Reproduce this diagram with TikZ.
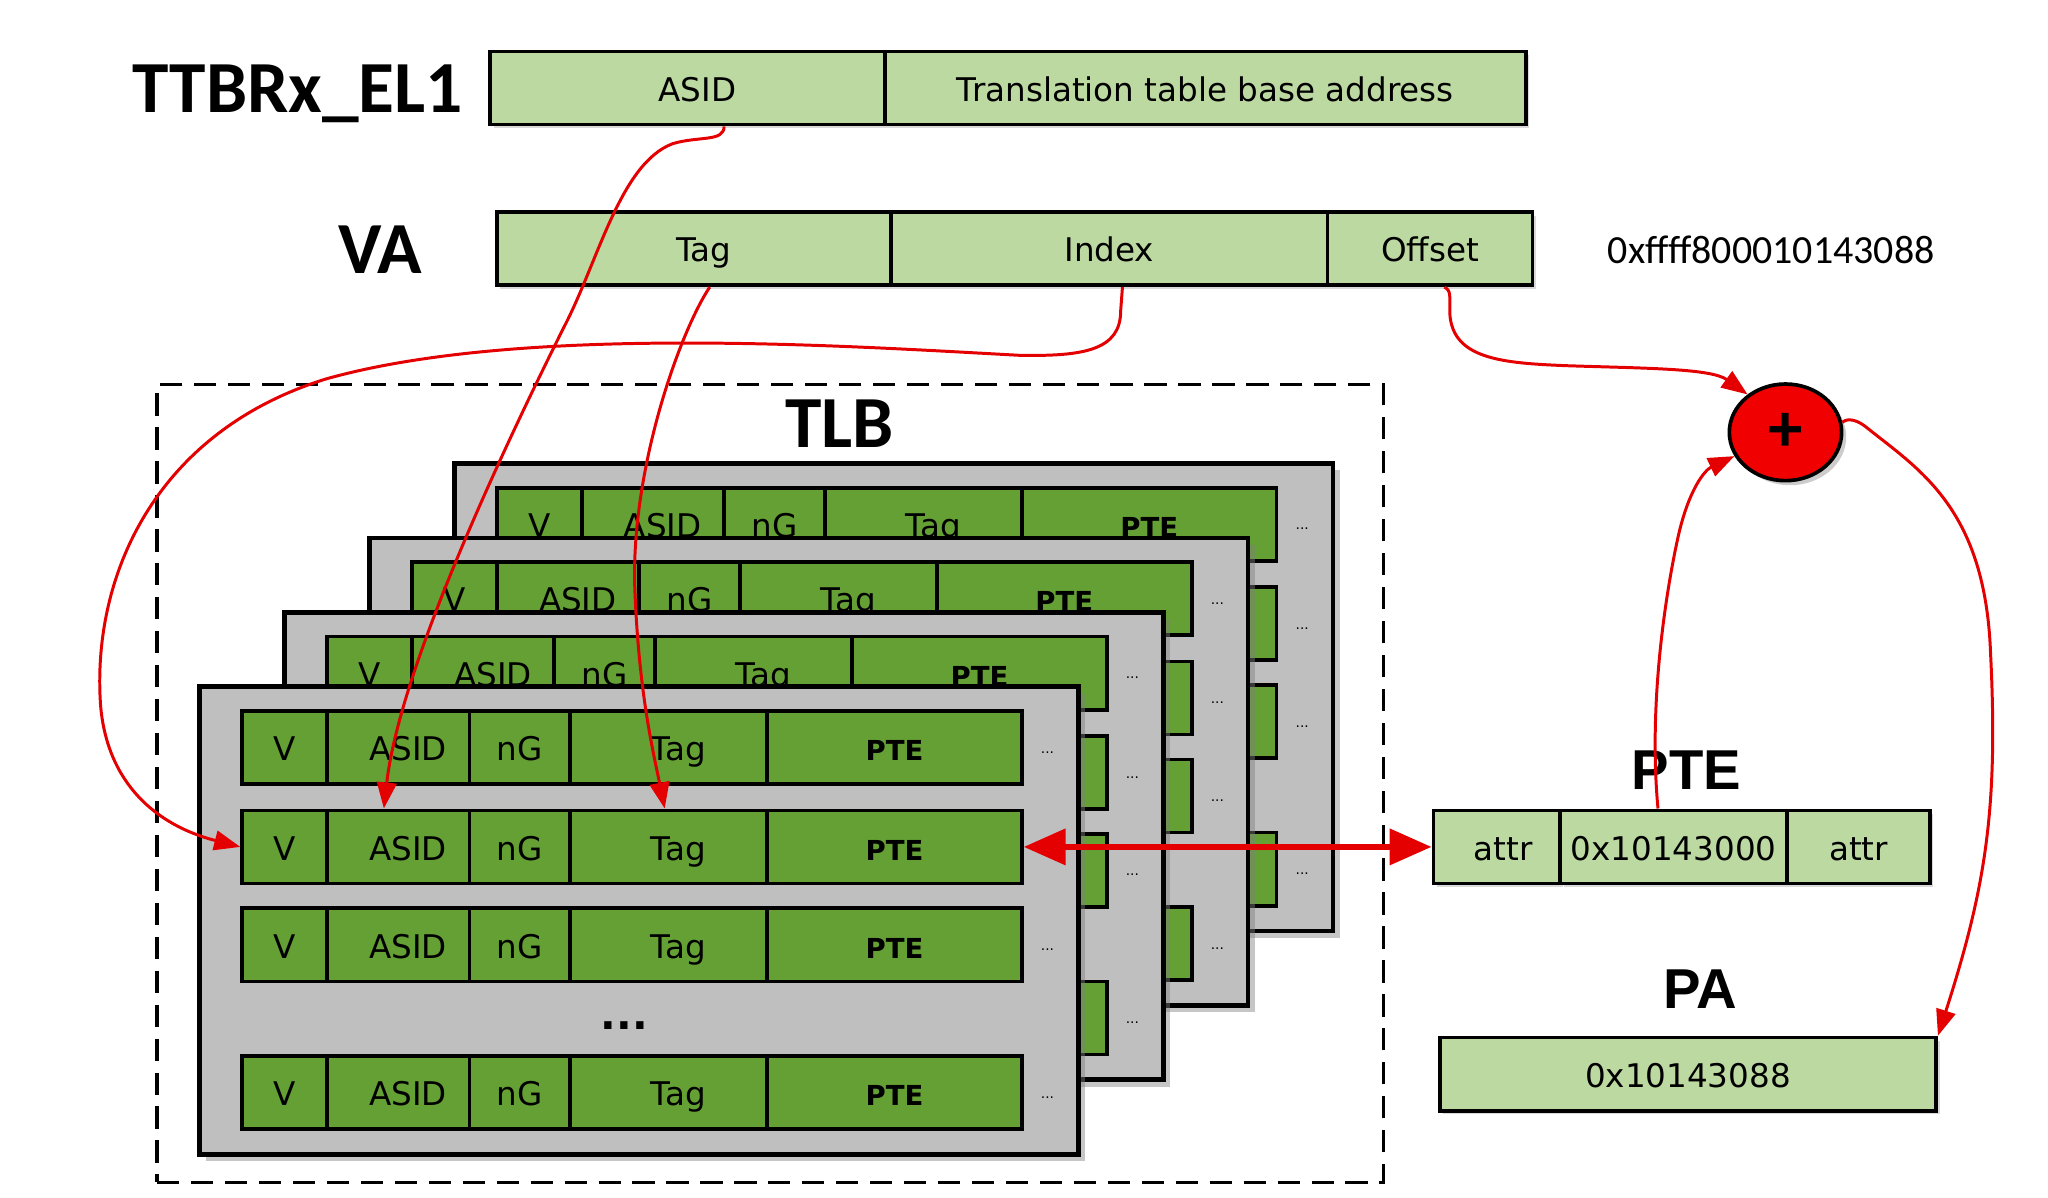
\documentclass[tikz,border=0pt]{standalone}
\usepackage{fontspec}
\setmainfont{DejaVu Sans}
\newfontfamily\calibrifont{Carlito}
\newfontfamily\arialfont{Liberation Sans}
\usetikzlibrary{shapes.geometric,shadows,arrows.meta,calc}

\definecolor{lightgreen}{RGB}{189,217,162}
\definecolor{rowgreen}{RGB}{100,160,52}
\definecolor{panelgray}{RGB}{191,191,191}
\definecolor{linkred}{RGB}{228,0,0}
\definecolor{plusred}{RGB}{240,0,0}

\newcommand\fieldfont{\fontsize{14.2}{16}\selectfont}
\newcommand\ptefont{\bfseries\fontsize{12}{14}\selectfont}
\newcommand\titlefont{\calibrifont\bfseries\fontsize{32}{36}\selectfont}
\newcommand\sidefont{\arialfont\bfseries\fontsize{24.5}{28}\selectfont}
\newcommand\addrfont{\calibrifont\fontsize{17.4}{20}\selectfont}

\begin{document}
\begin{tikzpicture}[x=0.02cm,y=-0.02cm,
field/.style={draw,line width=1.6pt,inner sep=0pt,anchor=north west,minimum height=1.12cm,text height=11.5pt,text depth=0pt,font=\fieldfont},
light/.style={field,fill=lightgreen,drop shadow={shadow xshift=1.5pt,shadow yshift=-1.5pt,opacity=0.3}},
cell/.style={field,fill=rowgreen},
panel/.style={draw,line width=2pt,fill=panelgray,inner sep=0pt,anchor=north west,minimum width=13.46cm,minimum height=7.16cm,drop shadow={shadow xshift=3pt,shadow yshift=-3pt,opacity=0.45}},
tlbbox/.style={draw,line width=1.5pt,dash pattern=on 0.34cm off 0.18cm,inner sep=0pt,anchor=north west,minimum width=18.78cm,minimum height=12.22cm},
title/.style={font=\titlefont},
side/.style={font=\sidefont},
addr/.style={font=\addrfont},
dots/.style={font=\fontsize{6}{7}\selectfont},
bigdots/.style={font=\bfseries\fontsize{18}{20}\selectfont},
plus/.style={ellipse,draw,line width=1.6pt,fill=plusred,minimum width=1.72cm,minimum height=1.48cm,font=\calibrifont\bfseries\fontsize{30}{30}\selectfont,drop shadow={shadow xshift=2pt,shadow yshift=-2pt,opacity=0.4}},
link/.style={draw=linkred,line width=1.3pt,-{Triangle[length=0.4cm,width=0.3cm]}},
big/.style={draw=linkred,line width=2.6pt,{Triangle[length=0.64cm,width=0.54cm]}-{Triangle[length=0.64cm,width=0.54cm]}},
]
\useasboundingbox (0,0) rectangle (1568,917);

%%%% registers
%%%%
\node[title] (ttbrlabel) at (228,72) {TTBRx\_EL1};
\node[light,minimum width=6.04cm] (asidT) at (374,38) {\hspace{0.3cm}ASID};
\node[light,minimum width=9.82cm] (baseT) at (676,38) {Translation table base address};

\node[title] (valabel) at (291,191) {VA};
\node[light,minimum width=6.04cm] (tagV) at (379,161) {\hspace{0.3cm}Tag};
\node[light,minimum width=6.68cm] (indexV) at (681,161) {Index};
\node[light,minimum width=3.14cm] (offV) at (1015,161) {Offset};
\node[addr] (vaddr) at (1356,191) {0xffff800010143088};

%%%% TLB
%%%%
\node[tlbbox] (tlb) at (119,293) {};
\node[title] (tlblabel) at (643,324) {TLB};

\foreach \k in {3,2,1,0}{
\begin{scope}[shift={(151+65*\k,524-57*\k)}]
\node[panel] (panel\k) at (0,0) {};
\foreach \r/\ry in {1/19,2/95,3/170,4/283}{
\foreach \n/\x/\w/\t in {v/0/65/V,asid/65/109/\hspace{0.3cm}ASID,ng/174/77/nG,tag/251/151/\hspace{0.3cm}Tag,pte/402/195/{\ptefont PTE}}{
% rows of the back panels only show their right end
\node[cell,minimum width=\w*0.02cm] (\n\r) at (33+\x,\ry) {\ifnum\k=0 \t\else\ifnum\r=1 \t\fi\fi};
}
\node[dots] (dots\r) at (651,\ry+33) {...};
}
\ifnum\k=0 \node[bigdots] (more) at (327,261) {...};\fi
\end{scope}
}

%%%% PTE and PA
%%%%
\node[side] (ptelabel) at (1291,590) {PTE};
\node[light,minimum width=1.94cm] (attrL) at (1096,619) {\hspace{0.2cm}attr};
\node[light,minimum width=3.48cm] (ppn) at (1193,619) {0x10143000};
\node[light,minimum width=2.18cm] (attrR) at (1367,619) {attr};

\node[side] (palabel) at (1302,757) {PA};
\node[light,minimum width=7.6cm] (pa) at (1101,793) {0x10143088};

\node[plus] (plus) at (1367,331) {+};

%%%% links
%%%%
\draw[link] ($(asidT.south)+(28,0)$) .. controls +(0,12) and (535,104) .. (515,110) .. controls (475,125) and (458,200) .. (432,250) .. controls (372,370) and (305,520) .. ($(asid2.north)+(-11,0)$);
\draw[link] ($(tagV.south)+(12,0)$) .. controls (520,255) and (483,360) .. (486,450) .. controls (489,530) and (500,575) .. ($(tag2.north)+(-3,0)$);
\draw[link] ($(indexV.south)+(10,0)$) -- (858,238) .. controls (858,268) and (830,273) .. (780,272) .. controls (650,265) and (400,248) .. (250,290) .. controls (120,330) and (70,440) .. (77,540) .. controls (82,600) and (120,632) .. (v2.west);
\draw[link] ($(offV.south)+(11,0)$) .. controls +(5,3) and +(0,-15) .. (1110,240) .. controls (1112,275) and (1150,278) .. (1200,280) .. controls (1260,282) and (1310,282) .. (plus.135);
\draw[link] ($(ppn.north)+(-12,0)$) .. controls (1262,540) and (1275,455) .. (1285,410) .. controls (1293,375) and (1305,360) .. (plus.205);
\draw[link] (plus.10) .. controls (1412,322) and (1418,318) .. (1430,328) .. controls (1470,360) and (1520,390) .. (1524,500) .. controls (1530,620) and (1520,680) .. (pa.north east);
\draw[big] (pte2.east) -- (attrL.west);

\end{tikzpicture}
\end{document}
